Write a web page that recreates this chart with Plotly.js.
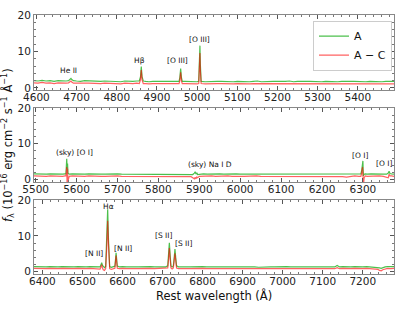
<!DOCTYPE html>
<html>
<head>
<meta charset="utf-8">
<script src="https://cdn.plot.ly/plotly-3.0.1.min.js"></script>
<style>html,body{margin:0;padding:0;background:#fff;}#plot{width:415px;height:312px;}</style>
</head>
<body>
<div id="plot"></div>
<script>
// ---- Panel 1 (4594-5490 A) ----
const w1 = [
 4594,4604,4614,4624,4634,4644,4654,4664,4674,4680,
 4684,4686,4688,4692,4700,4710,4720,4730,4740,4750,
 4760,4770,4780,4790,4800,4810,4820,4830,4840,4850,
 4856,4859,4861,4863,4866,4872,4880,4890,4900,4910,
 4920,4930,4940,4950,4955,4957,4959,4961,4963,4970,
 4980,4990,5000,5004,5006,5007,5008,5010,5020,5030,
 5040,5050,5060,5070,5080,5090,5100,5110,5120,5130,
 5140,5150,5160,5170,5180,5190,5200,5210,5220,5230,
 5240,5250,5260,5270,5280,5290,5300,5310,5320,5330,
 5340,5350,5360,5370,5380,5390,5400,5410,5420,5430,
 5440,5450,5460,5470,5480,5490];
const a1 = [
 2.0,1.9,2.1,1.9,2.0,1.8,2.0,1.9,1.9,2.0,
 2.3,2.6,2.3,2.0,1.9,1.8,2.0,1.9,1.8,1.9,
 1.8,1.9,1.8,1.9,1.8,1.7,1.9,1.8,1.8,1.9,
 1.9,3.0,5.9,3.0,1.9,1.8,1.7,1.8,1.8,1.7,
 1.8,1.8,1.7,1.8,1.8,2.8,5.3,2.8,1.8,1.8,
 1.7,1.8,1.7,1.8,6.5,11.6,6.5,1.8,1.7,1.8,
 1.7,1.8,1.8,1.7,1.8,1.7,1.8,1.7,1.8,1.7,
 1.8,1.9,1.7,1.8,1.7,1.8,1.8,1.7,1.8,1.9,
 1.7,1.8,1.7,1.8,1.8,1.7,1.8,1.7,1.8,1.7,
 1.8,1.7,1.8,1.7,1.8,1.8,1.7,1.8,1.7,1.8,
 1.7,1.8,1.7,1.8,1.7,1.8];
const c1 = [
 1.4,1.3,1.5,1.3,1.4,1.2,1.4,1.3,1.3,1.4,
 1.6,1.9,1.6,1.3,1.3,1.2,1.3,1.3,1.2,1.3,
 1.2,1.3,1.2,1.3,1.2,1.1,1.3,1.2,1.2,1.3,
 1.2,2.2,4.9,2.2,1.2,1.2,1.1,1.2,1.2,1.1,
 1.2,1.2,1.1,1.2,1.2,2.0,4.3,2.0,1.2,1.2,
 1.1,1.2,1.1,1.2,5.0,9.6,5.0,1.2,1.1,1.2,
 1.1,1.2,1.2,1.1,1.2,1.1,1.2,1.1,1.2,1.1,
 1.2,1.2,1.1,1.2,1.1,1.1,1.2,1.1,1.2,1.2,
 1.1,1.2,1.1,1.1,1.2,1.1,1.2,1.1,1.1,1.1,
 1.2,1.1,1.1,1.1,1.2,1.1,1.1,1.2,1.1,1.1,
 1.1,1.2,1.1,1.1,1.1,1.1];

// ---- Panel 2 (5496-6376 A) ----
const w2 = [
 5496,5506,5516,5526,5536,5546,5556,5566,5572,5574,
 5575,5576,5577,5578,5579,5580,5582,5590,5600,5610,
 5620,5630,5640,5650,5660,5670,5680,5690,5700,5710,
 5720,5730,5740,5750,5760,5770,5780,5790,5800,5810,
 5820,5830,5840,5850,5860,5870,5880,5884,5888,5890,
 5892,5894,5896,5900,5910,5920,5930,5940,5950,5960,
 5970,5980,5990,6000,6010,6020,6030,6040,6050,6060,
 6070,6080,6090,6100,6110,6120,6130,6140,6150,6160,
 6170,6180,6190,6200,6210,6220,6230,6240,6250,6260,
 6270,6280,6290,6295,6297,6299,6300,6301,6303,6306,
 6310,6320,6330,6340,6350,6358,6362,6364,6366,6370,
 6376];
const a2 = [
 1.6,1.5,1.6,1.5,1.6,1.5,1.6,1.5,1.6,1.6,
 3.5,5.8,3.0,4.5,1.8,1.6,1.5,1.6,1.5,1.6,
 1.5,1.6,1.5,1.6,1.5,1.5,1.6,1.5,1.6,1.5,
 1.5,1.6,1.5,1.5,1.6,1.5,1.5,1.6,1.5,1.5,
 1.6,1.5,1.5,1.6,1.5,1.6,1.5,1.4,1.8,2.2,
 1.5,1.9,1.4,1.5,1.6,1.5,1.6,1.5,1.6,1.5,
 1.6,1.5,1.6,1.5,1.5,1.6,1.5,1.6,1.5,1.5,
 1.6,1.5,1.5,1.6,1.5,1.6,1.5,1.5,1.6,1.5,
 1.5,1.6,1.5,1.5,1.6,1.5,1.5,1.6,1.5,1.4,
 1.5,1.6,1.5,1.6,2.5,4.0,5.2,1.0,1.5,1.6,
 1.5,1.6,1.5,1.6,1.5,1.5,1.8,2.3,1.7,1.6,
 1.5];
const c2 = [
 1.0,0.9,1.0,0.9,1.0,0.9,1.0,0.9,1.0,1.0,
 2.0,3.5,-2.0,3.0,-2.0,0.0,0.9,1.0,0.9,1.0,
 0.9,1.0,0.9,1.0,0.9,0.9,1.0,0.9,1.0,0.9,
 0.9,1.0,0.9,0.9,1.0,0.9,0.9,1.0,0.9,0.9,
 1.0,0.9,0.9,1.0,0.9,1.0,0.8,0.5,0.2,0.6,
 0.2,0.7,0.5,0.9,1.0,0.9,1.0,0.9,1.0,0.9,
 1.0,0.9,1.0,0.9,0.9,1.0,0.9,1.0,0.9,0.9,
 1.0,0.9,0.9,1.0,0.9,1.0,0.9,0.9,1.0,0.9,
 0.9,1.0,0.9,0.9,1.0,0.9,0.9,1.0,0.8,0.7,
 0.9,1.0,0.9,0.9,1.8,3.5,2.0,-2.0,0.5,1.0,
 0.9,1.0,0.9,1.0,0.9,0.7,0.5,1.5,1.0,1.0,
 0.9];

// ---- Panel 3 (6379-7278 A) ----
const w3 = [
 6379,6389,6399,6409,6419,6429,6439,6449,6459,6469,
 6479,6489,6499,6509,6519,6529,6539,6544,6546,6548,
 6550,6552,6555,6558,6561,6563,6565,6568,6572,6578,
 6581,6583,6584,6585,6587,6592,6600,6610,6620,6630,
 6640,6650,6660,6670,6680,6690,6700,6708,6713,6715,
 6717,6719,6721,6724,6727,6729,6731,6733,6735,6740,
 6750,6760,6770,6780,6790,6800,6810,6820,6830,6840,
 6850,6860,6870,6880,6890,6900,6910,6920,6930,6940,
 6950,6960,6970,6980,6990,7000,7010,7020,7030,7040,
 7050,7060,7070,7080,7090,7100,7110,7120,7130,7136,
 7142,7150,7160,7170,7180,7190,7200,7210,7220,7230,
 7238,7242,7246,7250,7256,7262,7270,7278];
const a3 = [
 1.4,1.3,1.4,1.3,1.4,1.3,1.3,1.4,1.3,1.4,
 1.3,1.4,1.3,1.3,1.4,1.3,1.3,1.3,1.8,2.5,
 1.7,1.3,1.1,1.4,9.0,17.5,9.0,1.4,1.2,1.3,
 1.5,4.0,5.3,4.0,1.5,1.3,1.4,1.3,1.4,1.3,
 1.3,1.4,1.3,1.4,1.3,1.3,1.4,1.3,1.6,4.5,
 8.1,4.5,1.6,1.3,1.6,3.8,6.3,3.8,1.6,1.3,
 1.4,1.3,1.3,1.4,1.3,1.4,1.3,1.3,1.4,1.3,
 1.3,1.4,1.5,1.3,1.4,1.3,1.3,1.4,1.3,1.2,
 1.3,1.4,1.3,1.3,1.4,1.3,1.4,1.3,1.3,1.4,
 1.3,1.3,1.4,1.3,1.4,1.3,1.3,1.4,1.3,1.7,
 1.3,1.4,1.3,1.3,1.4,1.3,1.3,1.4,1.3,1.3,
 1.2,1.0,0.9,1.1,1.3,1.4,1.3,1.4];
const c3 = [
 0.9,0.8,0.9,0.8,0.9,0.8,0.8,0.9,0.8,0.9,
 0.8,0.9,0.8,0.8,0.9,0.8,0.8,0.7,1.2,1.9,
 1.0,0.5,0.3,0.8,7.5,14.3,7.5,0.8,0.6,0.8,
 0.9,3.3,4.5,3.3,0.9,0.8,0.9,0.8,0.9,0.8,
 0.8,0.9,0.8,0.9,0.8,0.8,0.9,0.8,1.0,3.5,
 6.6,3.5,1.0,0.7,1.0,3.0,5.1,3.0,1.0,0.8,
 0.9,0.8,0.8,0.9,0.8,0.9,0.8,0.8,0.9,0.8,
 0.8,0.9,0.9,0.8,0.9,0.8,0.7,0.9,0.8,0.7,
 0.8,0.9,0.8,0.8,0.9,0.8,0.9,0.8,0.8,0.9,
 0.8,0.8,0.9,0.8,0.9,0.8,0.8,0.9,0.8,1.1,
 0.8,0.9,0.8,0.8,0.9,0.8,0.8,0.9,0.8,0.8,
 0.6,0.3,0.2,0.5,0.8,0.9,0.8,0.9];

// ---- Axis ranges and labels ----
const xRanges = [[4594, 5490], [5496, 6376], [6379, 7278]];
const yRange = [-0.7, 20];
const seriesNames = ["A", "A \u2212 C"];

const lineLabels1 = [["He II", 4680, 4.9], ["H\u03b2", 4856, 7.6], ["[O III]", 4950, 7.6], ["[O III]", 5005, 13.2]];
const lineLabels2 = [["(sky) [O I]", 5595, 7.6], ["(sky) Na I D", 5926, 4.3], ["[O I]", 6292, 6.8], ["[O I]", 6351, 4.5]];
const lineLabels3 = [["H\u03b1", 6565, 18.4], ["[N II]", 6530, 5.0], ["[N II]", 6600, 6.4], ["[S II]", 6702, 10.0], ["[S II]", 6752, 7.8]];

const green = "rgba(0,165,0,0.7)";
const red = "rgba(255,0,0,0.62)";
const FONT = "DejaVu Sans, sans-serif";

const panels = [[w1, a1, c1], [w2, a2, c2], [w3, a3, c3]];
const traces = [];
panels.forEach((p, i) => {
  const xa = i === 0 ? "x" : "x" + (i + 1);
  const ya = i === 0 ? "y" : "y" + (i + 1);
  traces.push({x: p[0], y: p[1], xaxis: xa, yaxis: ya, type: "scatter", mode: "lines",
    name: seriesNames[0], line: {color: green, width: 1.2}, showlegend: i === 0});
  traces.push({x: p[0], y: p[2], xaxis: xa, yaxis: ya, type: "scatter", mode: "lines",
    name: seriesNames[1], line: {color: red, width: 1.2}, showlegend: i === 0});
});

function xax(i, anchor) {
  return {domain: [0, 1], anchor: anchor, range: xRanges[i], dtick: 100, tick0: 0,
    ticks: "inside", ticklen: 4, tickwidth: 1, tickcolor: "#555",
    showline: true, linecolor: "#888", linewidth: 1, mirror: "allticks",
    showgrid: false, zeroline: false, ticklabelstandoff: -3,
    minor: {ticks: "inside", ticklen: 2, dtick: 20, tickcolor: "#777", showgrid: false},
    tickfont: {family: FONT, size: 10.5, color: "#222"}};
}
function yax(dom, anchor) {
  return {domain: dom, anchor: anchor, range: yRange, tickvals: [0, 10, 20],
    ticks: "inside", ticklen: 4, tickwidth: 1, tickcolor: "#555",
    showline: true, linecolor: "#888", linewidth: 1, mirror: "allticks",
    showgrid: false, zeroline: false,
    minor: {ticks: "inside", ticklen: 2, dtick: 2, tickcolor: "#777", showgrid: false},
    tickfont: {family: FONT, size: 10.5, color: "#222"}};
}

const annotations = [];
[[lineLabels1, "x", "y"], [lineLabels2, "x2", "y2"], [lineLabels3, "x3", "y3"]].forEach(([labs, xr, yr]) => {
  labs.forEach(l => annotations.push({text: l[0], x: l[1], y: l[2], xref: xr, yref: yr,
    showarrow: false, font: {family: FONT, size: 7.5, color: "#111"}}));
});
annotations.push({text: "<i>f</i><sub>\u03bb</sub> (10<sup>\u221216</sup> erg cm<sup>\u22122</sup> s<sup>\u22121</sup> \u00c5<sup>\u22121</sup>)",
  xref: "paper", yref: "paper", x: 0, xshift: -26, y: 0.498, textangle: -90, showarrow: false,
  xanchor: "center", yanchor: "middle", font: {family: FONT, size: 11.5, color: "#111"}});
annotations.push({text: "Rest wavelength (\u00c5)", xref: "paper", yref: "paper", x: 0.5, y: 0, yshift: -21,
  showarrow: false, xanchor: "center", yanchor: "middle", font: {family: FONT, size: 11.5, color: "#111"}});

const layout = {
  width: 415, height: 312,
  margin: {l: 34, r: 21, t: 15, b: 38},
  paper_bgcolor: "#fff", plot_bgcolor: "#fff",
  showlegend: true,
  legend: {x: 0.775, y: 0.978, xanchor: "left", yanchor: "top", bgcolor: "#fff",
    bordercolor: "#ccc", borderwidth: 1, itemwidth: 30, tracegroupgap: 0,
    font: {family: FONT, size: 11, color: "#111"}},
  xaxis: xax(0, "y"), yaxis: yax([0.7085, 1], "x"),
  xaxis2: xax(1, "y2"), yaxis2: yax([0.355, 0.641], "x2"),
  xaxis3: xax(2, "y3"), yaxis3: yax([0, 0.284], "x3"),
  annotations: annotations
};

Plotly.newPlot("plot", traces, layout, {displayModeBar: false, staticPlot: true});
</script>
</body>
</html>
